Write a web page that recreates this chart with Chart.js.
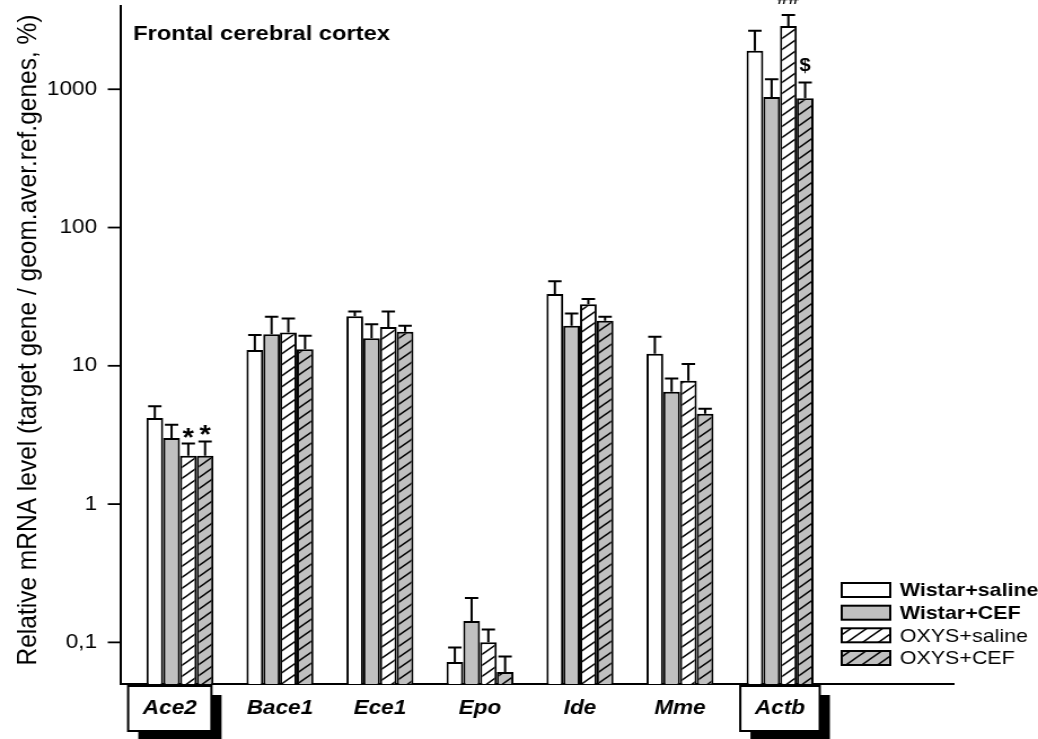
<!DOCTYPE html>
<html>
<head>
<meta charset="utf-8">
<script src="https://cdn.jsdelivr.net/npm/chart.js@4/dist/chart.umd.min.js"></script>
<style>
  html, body { margin: 0; padding: 0; background: #fff; overflow: hidden; }
  #wrap { position: absolute; left: 0; top: 0; width: 920px; height: 739px;
          transform: scaleX(1.1283); transform-origin: 0 0; }
</style>
</head>
<body>
<div id="wrap"><canvas id="c" width="920" height="739"></canvas></div>
<script>
// Gene expression, frontal cerebral cortex (mean and SEM, % of reference genes)
const genes = ['Ace2', 'Bace1', 'Ece1', 'Epo', 'Ide', 'Mme', 'Actb'];
const seriesNames = ['Wistar+saline', 'Wistar+CEF', 'OXYS+saline', 'OXYS+CEF'];

const wistarSaline    = [4.2, 13.0, 22.8, 0.072, 33.0, 12.2, 1900];
const wistarSalineSem = [0.9, 3.7, 1.9, 0.020, 7.8, 4.0, 750];
const wistarCef       = [3.0, 16.9, 15.8, 0.143, 19.5, 6.5, 880];
const wistarCefSem    = [0.75, 5.7, 4.2, 0.066, 4.4, 1.6, 300];
const oxysSaline      = [2.24, 17.4, 19.1, 0.10, 27.9, 7.8, 2870];
const oxysSalineSem   = [0.5, 4.6, 5.6, 0.024, 2.5, 2.5, 580];
const oxysCef         = [2.24, 13.2, 17.6, 0.061, 21.2, 4.5, 860];
const oxysCefSem      = [0.6, 3.3, 1.9, 0.018, 1.4, 0.4, 260];

const yDecades = [0.1, 1, 10, 100, 1000];
const yDecadeLabels = ['0,1', '1', '10', '100', '1000'];

// significance marks: gene index, series index, symbol
const marks = [
  { gene: 0, series: 2, text: '*' },
  { gene: 0, series: 3, text: '*' },
  { gene: 6, series: 2, text: '##' },
  { gene: 6, series: 3, text: '$' }
];
const boxedGenes = ['Ace2', 'Actb'];

const FONT = '"Liberation Sans", Arial, Helvetica, sans-serif';
const GREY = '#c0c0c0';
const Y_MIN = 0.05, Y_MAX = 4000;

// log ticks: every 1..9 step of each decade inside the axis range
const yTickValues = [];
[0.01].concat(yDecades).forEach(d => {
  for (let s = 1; s <= 9; s++) {
    const v = Number((s * d).toPrecision(3));
    if (v >= Y_MIN && v <= Y_MAX) yTickValues.push(v);
  }
});
function decadeIndex(v) {
  return yDecades.findIndex(d => Math.abs(d - v) < d * 1e-6);
}

function hatch(bg) {
  const w = 14, h = 11;
  const c = document.createElement('canvas');
  c.width = w; c.height = h;
  const g = c.getContext('2d');
  g.fillStyle = bg;
  g.fillRect(0, 0, w, h);
  g.strokeStyle = '#000';
  g.lineWidth = 1.4;
  for (let k = -1; k <= 1; k++) {
    g.beginPath();
    g.moveTo(-2, h + k * h + 2 * h / w);
    g.lineTo(w + 2, k * h - 2 * h / w);
    g.stroke();
  }
  return g.createPattern(c, 'repeat');
}

const fills = ['#ffffff', GREY, hatch('#ffffff'), hatch(GREY)];
const values = [wistarSaline, wistarCef, oxysSaline, oxysCef];
const sems = [wistarSalineSem, wistarCefSem, oxysSalineSem, oxysCefSem];

const datasets = values.map((vals, si) => ({
  label: seriesNames[si],
  data: vals.map((v, i) => ({ x: i, y: v })),
  sem: sems[si],
  backgroundColor: fills[si],
  borderColor: '#000',
  borderWidth: 2,
  borderSkipped: 'start',
  categoryPercentage: 0.67,
  barPercentage: 1.0
}));

const decorations = {
  id: 'decorations',
  afterDatasetsDraw(chart) {
    const ctx = chart.ctx, ys = chart.scales.y;
    ctx.save();
    ctx.strokeStyle = '#000';
    ctx.lineWidth = 2;
    chart.data.datasets.forEach((ds, di) => {
      const meta = chart.getDatasetMeta(di);
      meta.data.forEach((bar, i) => {
        const p = bar.getProps(['x', 'y', 'width'], true);
        const top = ys.getPixelForValue(ds.data[i].y + ds.sem[i]);
        const cap = p.width * 0.4;
        ctx.beginPath();
        ctx.moveTo(p.x, p.y);
        ctx.lineTo(p.x, top);
        ctx.moveTo(p.x - cap, top);
        ctx.lineTo(p.x + cap, top);
        ctx.stroke();
      });
    });
    // significance symbols above the error bars
    ctx.fillStyle = '#000';
    ctx.textAlign = 'center';
    ctx.textBaseline = 'alphabetic';
    marks.forEach(m => {
      const ds = chart.data.datasets[m.series];
      const bar = chart.getDatasetMeta(m.series).data[m.gene];
      const top = ys.getPixelForValue(ds.data[m.gene].y + ds.sem[m.gene]);
      if (m.text === '*') {
        ctx.font = 'bold 26px ' + FONT;
        ctx.fillText(m.text, bar.x, top + 2);
      } else {
        ctx.font = 'bold 18px ' + FONT;
        ctx.fillText(m.text, bar.x, top - 11);
      }
    });
    ctx.restore();
  },
  afterDraw(chart) {
    const ctx = chart.ctx, ys = chart.scales.y, xs = chart.scales.x;
    const area = chart.chartArea;
    ctx.save();
    // y tick marks (long on decades, short in between)
    ctx.strokeStyle = '#000';
    ctx.lineWidth = 1.8;
    ys.ticks.forEach(t => {
      const py = ys.getPixelForValue(t.value);
      const len = decadeIndex(t.value) >= 0 ? 11.5 : 6;
      ctx.beginPath();
      ctx.moveTo(area.left - len, py);
      ctx.lineTo(area.left, py);
      ctx.stroke();
    });

    // gene names under the groups
    ctx.font = 'italic bold 20px ' + FONT;
    ctx.textAlign = 'center';
    ctx.textBaseline = 'alphabetic';
    genes.forEach((g, i) => {
      let cx = xs.getPixelForValue(i);
      if (i === 0) cx -= 9;
      if (boxedGenes.includes(g)) {
        const w = ctx.measureText(g).width + 26;
        const bx = cx - w / 2, by = 686, bh = 45;
        ctx.fillStyle = '#000';
        ctx.fillRect(bx + 9, by + 9, w, bh);
        ctx.fillStyle = '#fff';
        ctx.fillRect(bx, by, w, bh);
        ctx.lineWidth = 2;
        ctx.strokeRect(bx, by, w, bh);
      }
      ctx.fillStyle = '#000';
      ctx.fillText(g, cx, 714);
    });

    // legend
    const rowY = [590, 612.7, 635.3, 658];
    chart.data.datasets.forEach((ds, i) => {
      const cy = rowY[i];
      ctx.fillStyle = ds.backgroundColor;
      ctx.fillRect(746, cy - 7, 43, 14);
      ctx.lineWidth = 2;
      ctx.strokeStyle = '#000';
      ctx.strokeRect(746, cy - 7, 43, 14);
      ctx.fillStyle = '#000';
      ctx.font = (i < 2 ? 'bold ' : '') + '19px ' + FONT;
      ctx.textAlign = 'left';
      ctx.textBaseline = 'middle';
      ctx.fillText(ds.label, 797.5, cy + 1);
    });

    // panel title
    ctx.font = 'bold 21px ' + FONT;
    ctx.textAlign = 'left';
    ctx.textBaseline = 'alphabetic';
    ctx.fillText('Frontal cerebral cortex', 118, 40);

    // y axis title
    ctx.translate(25.5, 340);
    ctx.rotate(-Math.PI / 2);
    ctx.font = '24.5px ' + FONT;
    ctx.textAlign = 'center';
    ctx.textBaseline = 'middle';
    ctx.fillText('Relative mRNA level (target gene / geom.aver.ref.genes, %)', 0, 0);
    ctx.restore();
  }
};

new Chart(document.getElementById('c'), {
  type: 'bar',
  data: { datasets },
  options: {
    responsive: false,
    animation: false,
    layout: { padding: { top: 6, right: 75, left: 0, bottom: 0 } },
    plugins: { legend: { display: false }, tooltip: { enabled: false } },
    scales: {
      x: {
        type: 'linear',
        offset: false,
        min: -0.592,
        max: 7.734,
        afterBuildTicks(s) { s.ticks = genes.map((g, i) => ({ value: i })); },
        afterFit(s) { s.height = 55; },
        grid: { display: false, drawTicks: false, offset: false },
        border: { display: true, color: '#000', width: 2 },
        ticks: { display: false }
      },
      y: {
        type: 'logarithmic',
        min: Y_MIN,
        max: Y_MAX,
        afterBuildTicks(s) { s.ticks = yTickValues.map(v => ({ value: v, major: decadeIndex(v) >= 0 })); },
        afterFit(s) { s.width = 107; s.paddingTop = 0; s.paddingBottom = 0; },
        grid: { display: false, drawTicks: false },
        border: { display: true, color: '#000', width: 2 },
        ticks: {
          autoSkip: false,
          padding: 21,
          color: '#000',
          font: { family: FONT, size: 20 },
          callback(v) {
            const k = decadeIndex(v);
            return k >= 0 ? yDecadeLabels[k] : null;
          }
        }
      }
    }
  },
  plugins: [decorations]
});
</script>
</body>
</html>
